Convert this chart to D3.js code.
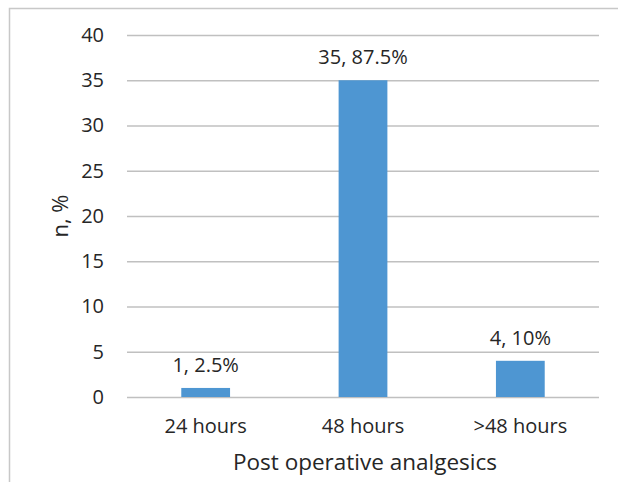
<!DOCTYPE html>
<html><head><meta charset="utf-8">
<script src="https://cdn.jsdelivr.net/npm/d3@7"></script>
<style>body{margin:0;background:#fff}svg{display:block}text{font-family:"Open Sans",sans-serif;fill:#262626}</style>
</head><body>
<script>
const categories = ["24 hours", "48 hours", ">48 hours"];
const counts = [1, 35, 4];
const labels = ["1, 2.5%", "35, 87.5%", "4, 10%"];
const yTicks = [0, 5, 10, 15, 20, 25, 30, 35, 40];
const xTitle = "Post operative analgesics";
const yTitle = "n, %";

const W = 618, H = 482;
const m = {left:127, right:19, top:35, bottom:85};
const FS = 20;
const svg = d3.select("body").append("svg").attr("width", W).attr("height", H);

// outer frame (left and top visible)
svg.append("path").attr("d", `M9.5,${H} V8.5 H${W}`).attr("fill","none").attr("stroke","#c8c8c8").attr("stroke-width",1.5);

const x = d3.scaleBand().domain(categories).range([m.left, W - m.right]).paddingInner(0.69).paddingOuter(0.345);
const y = d3.scaleLinear().domain([0, 40]).range([H - m.bottom, m.top]);

const g = svg.append("g");
const yAxis = d3.axisLeft(y).tickValues(yTicks).tickSize(-(W - m.left - m.right)).tickPadding(23);
const ya = g.append("g").attr("transform", `translate(${m.left},0)`).call(yAxis);
ya.select(".domain").remove();
ya.selectAll("line").attr("stroke", "#c0c0c0").attr("stroke-width", 1.6);
ya.selectAll("text").attr("font-size", FS).attr("fill", "#262626").style("font-family", '"Open Sans",sans-serif');

g.selectAll("rect.bar").data(categories).join("rect").attr("class","bar")
  .attr("x", d => x(d)).attr("width", x.bandwidth())
  .attr("y", (d,i) => y(counts[i])).attr("height", (d,i) => y(0) - y(counts[i]))
  .attr("fill", "#4E96D2");

g.selectAll("text.lbl").data(categories).join("text").attr("class","lbl")
  .attr("x", d => x(d) + x.bandwidth()/2).attr("y", (d,i) => y(counts[i]) - 16)
  .attr("text-anchor","middle").attr("font-size", FS).text((d,i) => labels[i]);

const xAxis = d3.axisBottom(x).tickSize(0).tickPadding(22);
const xa = g.append("g").attr("transform", `translate(0,${y(0)})`).call(xAxis);
xa.select(".domain").remove();
xa.selectAll("text").attr("font-size", FS).attr("fill", "#262626").style("font-family", '"Open Sans",sans-serif');

svg.append("text").attr("x", (m.left + W - m.right)/2 + 2).attr("y", 470)
  .attr("text-anchor","middle").attr("font-size", 22.5).text(xTitle);
svg.append("text").attr("transform", `translate(68,${(y(0)+y(40))/2}) rotate(-90)`)
  .attr("text-anchor","middle").attr("font-size", 22).text(yTitle);
</script>
</body></html>
